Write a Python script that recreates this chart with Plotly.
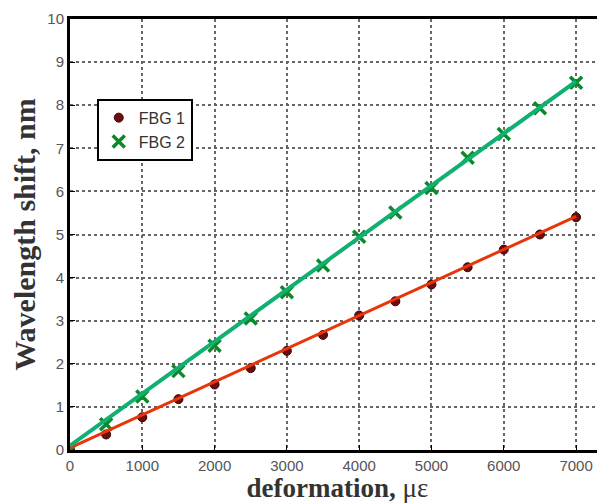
import plotly.graph_objects as go

deformation = [0, 500, 1000, 1500, 2000, 2500, 3000, 3500, 4000, 4500, 5000, 5500, 6000, 6500, 7000]
fbg1 = [0.0, 0.36, 0.76, 1.18, 1.52, 1.9, 2.3, 2.67, 3.12, 3.45, 3.84, 4.24, 4.65, 5.0, 5.4]
fbg2 = [0.0, 0.6, 1.24, 1.83, 2.42, 3.05, 3.66, 4.28, 4.95, 5.51, 6.08, 6.78, 7.33, 7.93, 8.52]
fit_x = [0, 7000]
fit_fbg1 = [0.05, 5.42]
fit_fbg2 = [0.1, 8.55]
x_ticks = [0, 1000, 2000, 3000, 4000, 5000, 6000, 7000]
y_ticks = [0, 1, 2, 3, 4, 5, 6, 7, 8, 9, 10]

fig = go.Figure()
fig.add_trace(go.Scatter(x=deformation, y=fbg1, mode="markers", name="FBG 1",
                         marker=dict(symbol="circle", size=9, color="#6e0d0d",
                                     line=dict(color="#3a0505", width=1))))
fig.add_trace(go.Scatter(x=deformation, y=fbg2, mode="markers", name="FBG 2",
                         marker=dict(symbol="x-thin", size=12, color="#0a8a2a",
                                     line=dict(color="#0a8a2a", width=3.5))))
fig.add_trace(go.Scatter(x=fit_x, y=fit_fbg1, mode="lines", showlegend=False,
                         line=dict(color="#e8360a", width=3)))
fig.add_trace(go.Scatter(x=fit_x, y=fit_fbg2, mode="lines", showlegend=False,
                         line=dict(color="#10b070", width=4)))

# The page body has an 8px margin, so the figure is shrunk by that amount
fig.update_layout(
    width=597, height=495,
    margin=dict(l=62, r=0, t=11, b=53),
    paper_bgcolor="white", plot_bgcolor="white",
    font=dict(family="Liberation Sans, Arial", size=15, color="#444"),
    legend=dict(x=0.05, y=0.815, xanchor="left", yanchor="top",
                bgcolor="white", bordercolor="black", borderwidth=2,
                font=dict(size=16, color="#333"), itemwidth=30,
                tracegroupgap=0),
    xaxis=dict(range=[0, 7400], tickvals=x_ticks, ticks="inside", ticklen=5,
               tickcolor="black", showline=True, linecolor="black", linewidth=3,
               mirror=True, showgrid=True, gridcolor="#666", griddash="dot",
               gridwidth=2, zeroline=False, automargin=False,
               tickfont=dict(size=15, color="#555"),
               title=dict(text="<b>deformation,</b> με", standoff=4,
                          font=dict(family="Liberation Serif, Times New Roman", size=27, color="#333"))),
    yaxis=dict(range=[0, 10], tickvals=y_ticks, ticks="inside", ticklen=5,
               tickcolor="black", showline=True, linecolor="black", linewidth=3,
               showgrid=True, gridcolor="#666", griddash="dot", gridwidth=2,
               zeroline=False, automargin=False,
               tickfont=dict(size=15, color="#555"),
               title=dict(text="<b>Wavelength shift, nm</b>", standoff=6,
                          font=dict(family="Liberation Serif, Times New Roman", size=30, color="#333"))),
)

fig.write_html("out.html")
